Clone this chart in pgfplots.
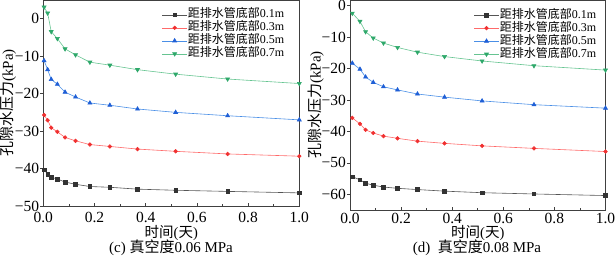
\documentclass[border=0pt]{standalone}
\usepackage{pgfplots}
\pgfplotsset{compat=1.18}
\usepackage{fontspec}
\setmainfont{Liberation Serif}
\newfontfamily\cjk{Noto Sans CJK SC}
\definecolor{mK}{HTML}{333333}
\definecolor{lK}{HTML}{555555}
\definecolor{mR}{HTML}{F03030}
\definecolor{lR}{HTML}{FF6A6A}
\definecolor{mB}{HTML}{1F5FD6}
\definecolor{lB}{HTML}{4A8FE6}
\definecolor{mG}{HTML}{2EA86A}
\definecolor{lG}{HTML}{66C491}
\begin{document}
\begin{tikzpicture}
\useasboundingbox (0pt,0pt) rectangle (616pt,255pt);
\pgfplotsset{
  myax/.style={
    scale only axis,
    xmin=0, xmax=1,
    xtick={0,0.2,0.4,0.6,0.8,1.0},
    xticklabels={0.0,0.2,0.4,0.6,0.8,1.0},
    minor x tick num=1,
    xtick align=inside,
    ytick align=outside,
    xtick pos=bottom, ytick pos=left,
    axis line style={draw=black!75, line width=0.6pt},
    tick style={black!75, line width=0.6pt},
    major tick length=3pt, minor tick length=2pt,
    tick label style={font=\fontsize{15.5}{17}\selectfont},
    yticklabel style={inner sep=1pt},
    xticklabel style={yshift=-2.7pt},
    xlabel={{\cjk 时间}({\cjk 天})},
    ylabel={{\cjk 孔隙水压力}(kPa)},
    xlabel style={font=\fontsize{14.5}{16}\selectfont, at={(axis description cs:0.5,0)}, anchor=center, yshift=-26.5pt, inner sep=0pt},
    ylabel style={font=\fontsize{15}{16}\selectfont, at={(axis description cs:0,0.5)}, anchor=center, yshift=35pt},
    legend cell align=left,
    legend style={draw=none, fill=none, font=\fontsize{12}{13}\selectfont,
      at={(0.948,0.963)}, anchor=north east, row sep=1pt, inner sep=1pt,
      nodes={inner sep=0.5pt, text height=8.5pt, text depth=2.5pt}},
    legend image code/.code={\draw[mark repeat=2,mark phase=2] plot coordinates {(0pt,0pt)(12.5pt,0pt)(25pt,0pt)};},
    every axis plot/.append style={line width=0.6pt, mark size=2pt},
  },
  sK/.style={color=lK, mark=square*, mark options={draw=mK, fill=mK, mark size=1.8pt}},
  sR/.style={color=lR, mark=*, mark options={draw=mR, fill=mR, mark size=1.8pt}},
  sB/.style={color=lB, mark=triangle*, mark options={draw=mB, fill=mB, mark size=2.3pt}},
  sG/.style={color=lG, mark=triangle*, mark options={draw=mG, fill=mG, rotate=180, mark size=2.3pt}},
}
\begin{axis}[myax, at={(43.3pt,49pt)}, anchor=south west, width=256pt, height=206pt,
  ymin=-50, ymax=5, ytick={-50,-40,-30,-20,-10,0},
  yticklabels={−50,−40,−30,−20,−10,0}]
\addplot[sK] coordinates {(0.003,-40.3)(0.017,-41.5)(0.031,-42.3)(0.055,-42.8)(0.085,-43.6)(0.126,-44.2)(0.182,-44.8)(0.260,-45.0)(0.368,-45.5)(0.517,-45.8)(0.720,-46.1)(1.0,-46.5)};
\addlegendentry{{\cjk 距排水管底部}0.1m}
\addplot[sR] coordinates {(0.003,-25.7)(0.017,-27.1)(0.031,-29.1)(0.055,-30.2)(0.085,-31.7)(0.126,-32.6)(0.182,-33.6)(0.260,-34.1)(0.368,-34.8)(0.517,-35.4)(0.720,-36.1)(1.0,-36.7)};
\addlegendentry{{\cjk 距排水管底部}0.3m}
\addplot[sB] coordinates {(0.003,-11.2)(0.017,-13.6)(0.031,-16.2)(0.055,-17.5)(0.085,-19.6)(0.126,-20.9)(0.182,-22.5)(0.260,-23.1)(0.368,-24.1)(0.517,-25.0)(0.720,-25.9)(1.0,-27.0)};
\addlegendentry{{\cjk 距排水管底部}0.5m}
\addplot[sG] coordinates {(0.003,3.1)(0.017,1.5)(0.031,-3.45)(0.055,-5.3)(0.085,-8.05)(0.126,-9.65)(0.182,-11.6)(0.260,-12.4)(0.368,-13.6)(0.517,-14.8)(0.720,-16.1)(1.0,-17.3)};
\addlegendentry{{\cjk 距排水管底部}0.7m}
\end{axis}
\node[font=\fontsize{15}{16}\selectfont, anchor=base, inner sep=0pt] at (171pt,3pt) {(c) {\cjk 真空度}0.06 MPa};
\begin{axis}[myax, at={(350pt,45pt)}, anchor=south west, width=255.5pt, height=210pt,
  ymin=-65, ymax=1.8, ytick={-60,-50,-40,-30,-20,-10,0},
  yticklabels={−60,−50,−40,−30,−20,−10,0},
  xticklabel style={yshift=2.7pt},
  xlabel style={yshift=4pt},
  ylabel style={yshift=-1pt},
  legend style={at={(0.97,0.962)}}]
\addplot[sK] coordinates {(0.009,-54.4)(0.039,-55.4)(0.061,-56.5)(0.091,-57.1)(0.131,-57.7)(0.186,-58.1)(0.264,-58.5)(0.370,-59.0)(0.517,-59.5)(0.720,-59.9)(1.0,-60.4)};
\addlegendentry{{\cjk 距排水管底部}0.1m}
\addplot[sR] coordinates {(0.009,-35.7)(0.039,-37.6)(0.061,-39.5)(0.091,-40.5)(0.131,-41.5)(0.186,-42.2)(0.264,-43.1)(0.370,-43.8)(0.517,-44.6)(0.720,-45.4)(1.0,-46.4)};
\addlegendentry{{\cjk 距排水管底部}0.3m}
\addplot[sB] coordinates {(0.009,-18.3)(0.039,-20.2)(0.061,-22.7)(0.091,-24.4)(0.131,-25.8)(0.186,-26.8)(0.264,-28.1)(0.370,-29.1)(0.517,-30.3)(0.720,-31.5)(1.0,-32.6)};
\addlegendentry{{\cjk 距排水管底部}0.5m}
\addplot[sG] coordinates {(0.009,-2.4)(0.039,-5.0)(0.061,-8.3)(0.091,-10.3)(0.131,-11.9)(0.186,-13.3)(0.264,-14.8)(0.370,-16.2)(0.517,-17.6)(0.720,-19.1)(1.0,-20.5)};
\addlegendentry{{\cjk 距排水管底部}0.7m}
\end{axis}
\node[font=\fontsize{15}{16}\selectfont, anchor=base, inner sep=0pt] at (477pt,3pt) {(d)\ \ {\cjk 真空度}0.08 MPa};
\end{tikzpicture}
\end{document}
